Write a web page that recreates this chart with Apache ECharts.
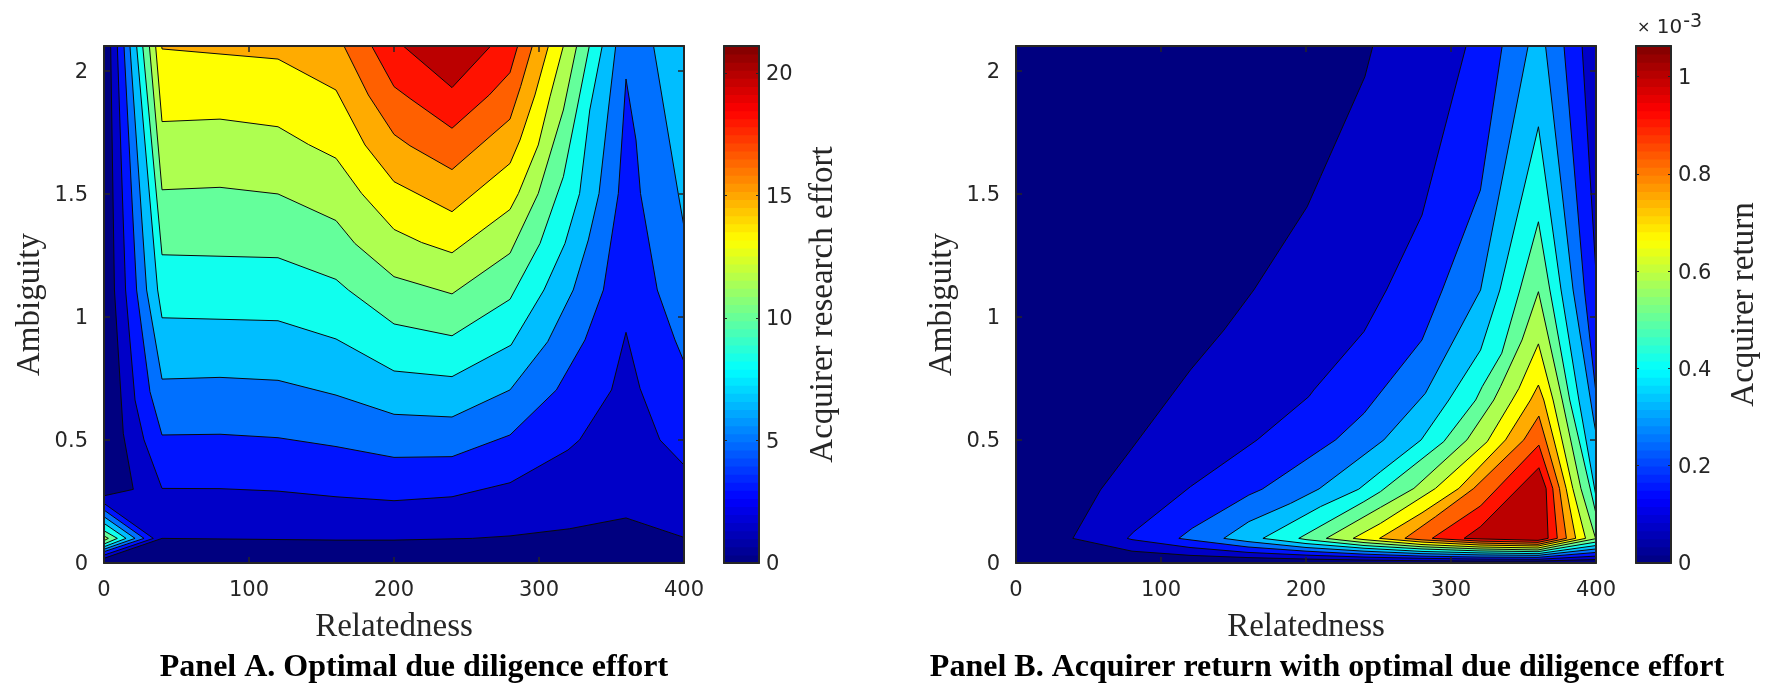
<!DOCTYPE html>
<html><head><meta charset="utf-8">
<style>html,body{margin:0;padding:0;background:#fff}#c{width:1775px;height:687px}</style>
<script src="https://cdn.jsdelivr.net/npm/echarts@6/dist/echarts.min.js"></script>
</head><body><div id="c"></div>
<script>
const xTicks=[0,100,200,300,400];
const yTicks=[0,0.5,1,1.5,2];
const cbarTicksA=[0,5,10,15,20];
const cbarTicksB=[0,0.2,0.4,0.6,0.8,1];
const cbarMaxA=21.1, cbarMaxB=1.063;
const bandColors=['#000080','#0000C8','#0014FF','#0070FF','#00BEFF','#10FFEE','#64FF9B','#AEFF50','#FFFF00','#FFAB00','#FF6000','#FF1200','#BB0000'];
const plotCorners=[[0,0],[400,0],[400,2.1],[0,2.1]];

// Panel A contours [relatedness, ambiguity]
const A1=[[4.6,2.1],[7.2,1.109],[13.3,.527],[20.2,.299],[0,.273],[0,.019],[40,.1],[160,.093],[200,.093],[254,.1],[280,.11],[321,.139],[360,.183],[400,.104],[400,2.1]];
const A2=[[9.2,2.1],[14.9,1.109],[21.4,.662],[27.6,.5],[40,.303],[80,.302],[120,.292],[160,.269],[200,.253],[240,.269],[280,.326],[320,.459],[328,.5],[350,.703],[360,.937],[369.7,.709],[383.4,.5],[400,.398],[400,2.1]];
const A3=[[13.8,2.1],[22.5,1.109],[31.7,.696],[40,.52],[80,.523],[120,.509],[160,.473],[200,.429],[240,.432],[280,.52],[312,.703],[331.7,.906],[344.4,1.109],[354.7,1.501],[360,1.966],[366.9,1.718],[370,1.501],[381.6,1.109],[393.8,.906],[400,.818],[400,2.1]];
const A4=[[17.9,2.1],[29.4,1.109],[40,.747],[80,.754],[120,.742],[160,.682],[200,.604],[240,.593],[280,.703],[306,.899],[323.6,1.109],[334,1.312],[341.4,1.501],[347.8,1.84],[352.9,2.1]];
const A4b=[[379,2.1],[396,1.501],[400,1.366],[400,2.1]];
const A5=[[22.5,2.1],[37,1.109],[40,.996],[120,.984],[160,.91],[200,.78],[240,.757],[280.7,.885],[303.4,1.109],[317.9,1.298],[328,1.501],[335,1.84],[343.6,2.1]];
const A6=[[26.7,2.1],[40,1.252],[120,1.24],[160,1.152],[168.5,1.109],[200,.971],[240,.923],[280,1.071],[300.7,1.298],[316.8,1.569],[326,1.84],[334.7,2.1]];
const A7=[[31.3,2.1],[40,1.516],[80,1.526],[120,1.499],[160,1.391],[173,1.298],[200,1.163],[240,1.093],[280,1.258],[299.5,1.501],[316.8,1.84],[326,2.1]];
const A8=[[35.6,2.1],[40,1.793],[80,1.803],[120,1.772],[141,1.7],[160,1.644],[177.7,1.501],[200,1.355],[219,1.302],[240,1.26],[280,1.436],[285.8,1.501],[299.5,1.698],[307.6,1.894],[316.8,2.1]];
const A9=[[39.8,2.1],[40,2.088],[120,2.047],[160,1.921],[180,1.698],[200,1.549],[240,1.427],[280,1.623],[286.9,1.718],[297.2,1.901],[306.5,2.1]];
const A10=[[165.5,2.1],[182.3,1.901],[200,1.741],[211,1.695],[240,1.598],[280,1.803],[287.3,1.935],[295.4,2.1]];
const A11=[[184.6,2.1],[200,1.935],[211,1.887],[240,1.766],[265.7,1.901],[280,1.992],[285.3,2.1]];
const A12=[[206.4,2.1],[240,1.931],[266.7,2.1]];
const spot2=[[0,.242],[34,.1],[0,.032]];
const spot3=[[0,.215],[27.6,.1],[0,.046]];
const spot4=[[0,.188],[21.4,.1],[0,.056]];
const spot5=[[0,.161],[15.2,.1],[0,.066]];
const spot6=[[0,.131],[9.2,.1],[0,.077]];
const spot7=[[0,.11],[3,.1],[0,.091]];

// Panel B contours
const B1=[[39.2,.1],[58.3,.297],[80,.466],[120.3,.784],[143.4,.946],[164,1.109],[200.8,1.447],[210,1.569],[240.6,1.975],[246.1,2.1],[400,2.1],[400,.014],[360,.008],[320,.008],[280,.009],[240,.012],[200,.016],[160,.022],[120,.031],[80,.048]];
const B2=[[76.7,.1],[81.3,.127],[120.3,.31],[166.3,.5],[202,.676],[205.4,.703],[240,.94],[255.5,1.109],[280,1.413],[310.4,2.1],[390.4,2.1],[399.7,1.204],[400,1.2],[400,.028],[360,.015],[320,.016],[280,.019],[240,.024],[200,.032],[160,.043],[120,.063],[80,.095]];
const B3=[[112.3,.1],[121.5,.141],[160.6,.276],[169.8,.3],[210,.459],[220.4,.5],[240,.608],[280,.906],[294,1.109],[320.3,1.515],[335.3,2.1],[377.9,2.1],[392,1.109],[400,.689],[400,.043],[360,.023],[320,.024],[280,.028],[240,.036],[200,.048],[160,.065],[120,.094]];
const B4=[[143.3,.1],[160.6,.168],[189.3,.242],[209,.301],[253.7,.5],[282.3,.689],[320.4,1.109],[353.2,2.1],[365.2,2.1],[384.2,1.109],[398.4,.581],[400,.527],[400,.057],[360,.031],[320,.033],[280,.038],[240,.048],[200,.063],[160,.087]];
const B5=[[170.3,.1],[210,.229],[236.4,.3],[251.4,.371],[279.4,.5],[298.5,.662],[320.4,.865],[333.7,1.109],[360.3,1.772],[375.9,1.109],[388.2,.662],[400,.27],[400,.071],[360,.038],[320,.041],[280,.047],[240,.06],[200,.079]];
const B6=[[195,.1],[239.9,.249],[251.4,.29],[295,.493],[317,.662],[321.5,.716],[335,.852],[347.5,1.109],[360.3,1.386],[368.2,1.109],[381.9,.662],[400,.2],[400,.085],[360,.046],[320,.049],[280,.057],[240,.071],[200,.095]];
const B7=[[214,.1],[251.4,.226],[274.4,.303],[311,.5],[329.5,.662],[334.1,.716],[349,.906],[360.3,1.102],[376.7,.662],[389.6,.303],[399.7,.1],[400,.099],[360,.053],[320,.057],[280,.066],[240,.083]];
const B8=[[232.5,.1],[251.4,.161],[289.3,.303],[325,.493],[342.2,.662],[346.8,.709],[360.3,.89],[370.4,.662],[384,.303],[392.8,.1],[360,.061],[320,.065],[280,.075],[240,.095]];
const B9=[[250.7,.1],[280,.204],[305.4,.303],[337.6,.5],[354.8,.662],[360.3,.723],[364,.662],[379.4,.303],[386,.1],[360,.069],[320,.073],[280,.085]];
const B10=[[268.2,.1],[289.3,.188],[315.7,.303],[350.2,.5],[360.6,.597],[374.8,.303],[379.6,.1],[360,.076],[320,.081],[280,.094]];
const B11=[[287,.1],[320.4,.232],[360.6,.479],[370.2,.303],[373.3,.1],[360,.084],[320,.089]];
const B12=[[309,.1],[320.4,.148],[360.6,.387],[365.6,.303],[367,.1],[360,.092],[320,.098]];

const polysA=[[0,plotCorners],[1,A1],[2,A2],[3,A3],[4,A4],[4,A4b],[5,A5],[6,A6],[7,A7],[8,A8],[9,A9],[10,A10],[11,A11],[12,A12],
  [2,spot2],[3,spot3],[4,spot4],[5,spot5],[6,spot6],[7,spot7]];
const polysB=[[0,plotCorners],[1,B1],[2,B2],[3,B3],[4,B4],[5,B5],[6,B6],[7,B7],[8,B8],[9,B9],[10,B10],[11,B11],[12,B12]];

const INK='#262626', SERIF='"Liberation Serif","Times New Roman",serif', SANS='"DejaVu Sans",Verdana,sans-serif';
const shiftedLabel={formatter:'{v|{value}}',rich:{v:{color:INK,fontFamily:SANS,fontSize:21,padding:[4,0,0,0]}}};

function jet(t){ // colormap for the colorbar
  const c=v=>Math.round(255*Math.max(0,Math.min(1,v)));
  return `rgb(${c(1.5-Math.abs(4*t-3))},${c(1.5-Math.abs(4*t-2))},${c(1.5-Math.abs(4*t-1))})`;
}
const grids=[],xAxes=[],yAxes=[],series=[];
function frameAxis(kind,grid,opt){
  return Object.assign({type:'value',gridIndex:grid,z:5,splitLine:{show:false},
    axisLine:{show:true,onZero:false,lineStyle:{color:INK,width:2}},
    axisTick:{inside:true,length:6,lineStyle:{color:INK,width:1.5}},
    axisLabel:{show:false}},opt);
}
function plot(left,polys,yName){
  const g=grids.length;
  grids.push({left,top:46,width:580,height:517});
  const labelBase={show:true,color:INK,fontFamily:SANS,fontSize:21};
  const xi=xAxes.length, yi=yAxes.length;
  xAxes.push(frameAxis('x',g,{position:'bottom',min:0,max:400,interval:100,name:'Relatedness',nameLocation:'middle',nameGap:48,
    nameTextStyle:{fontFamily:SERIF,fontSize:33,color:INK},axisLabel:Object.assign({},labelBase,{margin:17,customValues:xTicks}),axisTick:{inside:true,length:6,customValues:xTicks,lineStyle:{color:INK,width:1.5}}}));
  xAxes.push(frameAxis('x',g,{position:'top',min:0,max:400,interval:100}));
  yAxes.push(frameAxis('y',g,{position:'left',min:0,max:2.1,interval:.5,name:yName,nameLocation:'middle',nameGap:57,
    nameTextStyle:{fontFamily:SERIF,fontSize:33,color:INK},axisLabel:Object.assign({},labelBase,shiftedLabel,{margin:16,customValues:yTicks}),axisTick:{inside:true,length:6,customValues:yTicks,lineStyle:{color:INK,width:1.5}}}));
  yAxes.push(frameAxis('y',g,{position:'right',min:0,max:2.1,interval:.5,axisTick:{inside:true,length:6,customValues:yTicks,lineStyle:{color:INK,width:1.5}}}));
  series.push({type:'custom',xAxisIndex:xi,yAxisIndex:yi,z:2,clip:true,silent:true,animation:false,
    data:polys.map(p=>[p[1][0][0],p[1][0][1],p[0]]),encode:{x:0,y:1},
    renderItem:(params,api)=>{
      const p=polys[params.dataIndex];
      return {type:'polygon',shape:{points:p[1].map(q=>api.coord(q))},
        style:{fill:bandColors[p[0]],stroke:p[0]===0?null:'#0a0a0a',lineWidth:1,lineJoin:'miter'}};
    }});
}
function cbar(left,maxV,ticks,name,gap){
  const g=grids.length;
  grids.push({left,top:46,width:35,height:517});
  const xi=xAxes.length, yi=yAxes.length;
  xAxes.push(frameAxis('x',g,{position:'bottom',min:0,max:1,axisTick:{show:false}}));
  xAxes.push(frameAxis('x',g,{position:'top',min:0,max:1,axisTick:{show:false}}));
  const t={inside:true,length:3,customValues:ticks,lineStyle:{color:INK,width:1}};
  yAxes.push(frameAxis('y',g,{position:'right',min:0,max:maxV,name,nameLocation:'middle',nameGap:gap,nameRotate:90,
    nameTextStyle:{fontFamily:SERIF,fontSize:33,color:INK,verticalAlign:'bottom'},
    axisLabel:Object.assign({show:true,color:INK,fontFamily:SANS,fontSize:21,margin:7,customValues:ticks},shiftedLabel),axisTick:t}));
  yAxes.push(frameAxis('y',g,{position:'left',min:0,max:maxV,axisTick:t}));
  const steps=[];for(let i=0;i<64;i++)steps.push(i);
  series.push({type:'custom',xAxisIndex:xi,yAxisIndex:yi,z:2,silent:true,animation:false,
    data:steps.map(i=>[0,i]),encode:{x:0,y:1},
    renderItem:(params,api)=>{
      const i=params.dataIndex;
      const a=api.coord([0,maxV*i/64]),b=api.coord([1,maxV*(i+1)/64]);
      return {type:'rect',shape:{x:a[0],y:b[1]-0.5,width:b[0]-a[0],height:a[1]-b[1]+1},style:{fill:jet((i+0.5)/64)}};
    }});
}
plot(104,polysA,'Ambiguity');
cbar(724,cbarMaxA,cbarTicksA,'Acquirer research effort',81);
plot(1016,polysB,'Ambiguity');
cbar(1636,cbarMaxB,cbarTicksB,'Acquirer return',90);

const chart=echarts.init(document.getElementById('c'),null,{renderer:'canvas'});
const titleStyle={fontFamily:SERIF,fontSize:32,fontWeight:'bold',color:'#000'};
chart.setOption({animation:false,backgroundColor:'#fff',
  title:[
    {text:'Panel A. Optimal due diligence effort',left:414,top:652,textAlign:'center',textStyle:titleStyle,padding:0},
    {text:'Panel B. Acquirer return with optimal due diligence effort',left:1327,top:652,textAlign:'center',textStyle:titleStyle,padding:0}
  ],
  grid:grids,xAxis:xAxes,yAxis:yAxes,series,
  graphic:[{type:'text',left:1637,top:13,style:{text:'{a|×}{b| 10}{c|-3}',rich:{a:{fontSize:16,fontFamily:SANS,fill:INK},b:{fontSize:20,fontFamily:SANS,fill:INK},c:{fontSize:19,fontFamily:SANS,fill:INK,verticalAlign:'top',padding:[0,0,10,1]}}}}]
});
</script></body></html>
